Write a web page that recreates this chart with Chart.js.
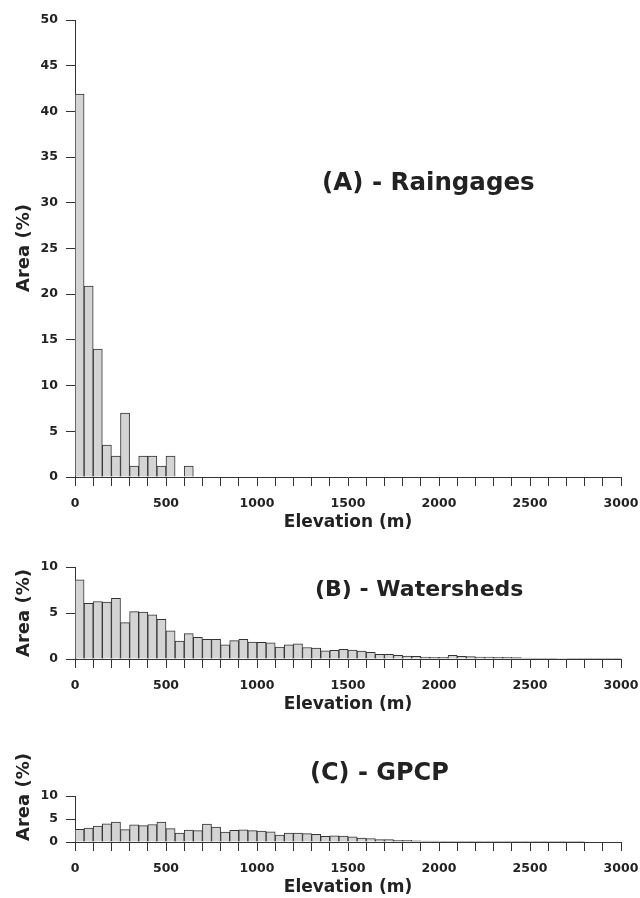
<!DOCTYPE html>
<html>
<head>
<meta charset="utf-8">
<script src="https://cdn.jsdelivr.net/npm/chart.js@4/dist/chart.umd.min.js"></script>
<style>
  html, body { margin: 0; padding: 0; background: #fff; overflow: hidden; }
  #figure { position: relative; width: 640px; height: 898px; }
  .panel { position: absolute; left: 0; }
  .panel-title, .y-title {
    position: absolute;
    font-family: "DejaVu Sans", sans-serif;
    font-weight: bold;
    color: #222;
    white-space: nowrap;
    line-height: 1;
  }
  .y-title {
    font-size: 18px;
    transform: translate(-50%, -50%) rotate(-90deg);
  }
</style>
</head>
<body>
<div id="figure">
  <canvas id="chart-a" class="panel" style="top:0" width="640" height="540"></canvas>
  <canvas id="chart-b" class="panel" style="top:545px" width="640" height="177"></canvas>
  <canvas id="chart-c" class="panel" style="top:725px" width="640" height="180"></canvas>

  <div class="panel-title" style="left:322px;top:170px;font-size:24.5px">(A) - Raingages</div>
  <div class="panel-title" style="left:315px;top:578px;font-size:22px">(B) - Watersheds</div>
  <div class="panel-title" style="left:310px;top:760px;font-size:24px">(C) - GPCP</div>

  <div class="y-title" style="left:23px;top:248px">Area (%)</div>
  <div class="y-title" style="left:23px;top:613px">Area (%)</div>
  <div class="y-title" style="left:23px;top:797px">Area (%)</div>
</div>
<script>
// elevation bins, 50 m wide, start of each bin
const BIN = 50;
const binStart = [
  0, 50, 100, 150, 200, 250, 300, 350, 400, 450,
  500, 550, 600, 650, 700, 750, 800, 850, 900, 950,
  1000, 1050, 1100, 1150, 1200, 1250, 1300, 1350, 1400, 1450,
  1500, 1550, 1600, 1650, 1700, 1750, 1800, 1850, 1900, 1950,
  2000, 2050, 2100, 2150, 2200, 2250, 2300, 2350, 2400, 2450,
  2500, 2550, 2600, 2650, 2700, 2750, 2800, 2850, 2900, 2950
];

// area (%) per bin
const raingages = [
  41.9, 20.9, 14.0, 3.5, 2.3, 7.0, 1.2, 2.3, 2.3, 1.2,
  2.3, 0, 1.2, 0, 0, 0, 0, 0, 0, 0,
  0, 0, 0, 0, 0, 0, 0, 0, 0, 0,
  0, 0, 0, 0, 0, 0, 0, 0, 0, 0,
  0, 0, 0, 0, 0, 0, 0, 0, 0, 0,
  0, 0, 0, 0, 0, 0, 0, 0, 0, 0
];
const watersheds = [
  8.6, 6.05, 6.25, 6.2, 6.6, 3.95, 5.15, 5.1, 4.8, 4.3,
  3.05, 1.95, 2.75, 2.35, 2.15, 2.15, 1.55, 2.0, 2.15, 1.85,
  1.8, 1.75, 1.3, 1.55, 1.65, 1.25, 1.2, 0.9, 0.93, 1.05,
  0.98, 0.87, 0.73, 0.52, 0.5, 0.4, 0.33, 0.29, 0.2, 0.18,
  0.18, 0.4, 0.3, 0.25, 0.22, 0.22, 0.18, 0.18, 0.15, 0.11,
  0.07, 0.07, 0.07, 0.05, 0.04, 0.04, 0.04, 0.03, 0.03, 0.03
];
const gpcp = [
  2.75, 3.0, 3.45, 3.95, 4.35, 2.7, 3.75, 3.55, 3.8, 4.35,
  2.9, 1.92, 2.57, 2.46, 3.88, 3.26, 2.14, 2.52, 2.64, 2.46,
  2.36, 2.23, 1.52, 1.92, 1.94, 1.81, 1.69, 1.23, 1.32, 1.27,
  1.12, 0.87, 0.76, 0.5, 0.5, 0.36, 0.36, 0.25, 0.18, 0.18,
  0.14, 0.08, 0.07, 0.06, 0.05, 0.05, 0.05, 0.04, 0.04, 0.04,
  0.03, 0.03, 0.03, 0.02, 0.02, 0.02, 0, 0, 0, 0
];

const xMax = 3000;
const xLabelStep = 500;

Chart.defaults.font.family = '"DejaVu Sans", sans-serif';
Chart.defaults.font.weight = 'bold';
Chart.defaults.color = '#222';

const inkColor = '#333';

function makePanel(id, values, yMax, padTop) {
  const ctx = document.getElementById(id).getContext('2d');
  return new Chart(ctx, {
    type: 'bar',
    data: {
      datasets: [{
        data: values.map((v, i) => ({ x: binStart[i] + BIN / 2, y: v })),
        backgroundColor: '#d4d4d4',
        borderColor: inkColor,
        borderWidth: 1,
        categoryPercentage: 1.0,
        barPercentage: 1.0
      }]
    },
    options: {
      responsive: false,
      animation: false,
      events: [],
      layout: { padding: { top: padTop, right: 19, left: 0, bottom: 0 } },
      plugins: { legend: { display: false }, tooltip: { enabled: false } },
      scales: {
        x: {
          type: 'linear',
          min: 0,
          max: xMax,
          offset: false,
          grid: { drawOnChartArea: false, drawTicks: true, tickLength: 9, color: inkColor, offset: false },
          border: { display: true, color: inkColor, width: 1 },
          ticks: {
            stepSize: 100,
            autoSkip: false,
            maxRotation: 0,
            padding: 10,
            font: { size: 12.5, weight: 'bold' },
            callback: v => (v % xLabelStep === 0 ? v : '')
          },
          title: {
            display: true,
            text: 'Elevation (m)',
            font: { size: 17, weight: 'bold' },
            padding: { top: 0, bottom: 7 }
          },
          afterFit: s => {
            s.height = 63;
            // let the end labels hang into the page margin
            s.paddingLeft = 0;
            s.paddingRight = 0;
          }
        },
        y: {
          min: 0,
          max: yMax,
          grid: { drawOnChartArea: false, drawTicks: true, tickLength: 9, color: inkColor },
          border: { display: true, color: inkColor, width: 1 },
          ticks: {
            stepSize: 5,
            padding: 8,
            font: { size: 12.5, weight: 'bold' }
          },
          afterFit: s => { s.width = 75; }
        }
      }
    }
  });
}

makePanel('chart-a', raingages, 50, 20);
makePanel('chart-b', watersheds, 10, 22);
makePanel('chart-c', gpcp, 10, 71);
</script>
</body>
</html>
